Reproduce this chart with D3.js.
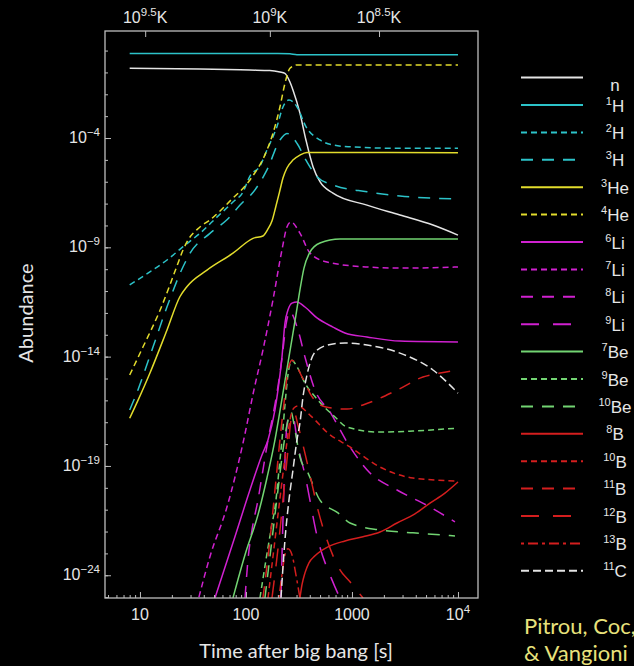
<!DOCTYPE html>
<html>
<head>
<meta charset="utf-8">
<script src="https://cdn.jsdelivr.net/npm/d3@7"></script>
<style>
  html, body { margin: 0; background: #000; }
  svg { display: block; }
</style>
</head>
<body>
<svg id="chart" width="634" height="666"></svg>
<script>
// each point: [time after big bang (s), log10 abundance]
const nData   = [[8,-0.81],[36.8,-0.84],[109,-0.89],[168,-0.91],[209,-0.98],[233,-1.04],[260,-1.44],[277.5,-1.80],[323,-2.86],[368,-4.09],[429,-5.31],[499,-6.00],[662,-6.52],[1387,-7.07],[2836,-7.52],[5808,-7.98],[10000,-8.44]];
const h1Data  = [[8,-0.13],[200,-0.13],[260,-0.15],[303,-0.19],[10000,-0.19]];
const h2Data  = [[8,-10.72],[12.4,-10.12],[18,-9.58],[25.5,-8.97],[36.8,-8.36],[53.2,-7.62],[75.4,-6.93],[93.8,-6.47],[109,-5.74],[135.5,-5.28],[157.8,-4.55],[196,-3.48],[223.4,-2.58],[254.5,-2.26],[302.7,-2.57],[368,-3.48],[499,-4.09],[662,-4.32],[958,-4.40],[2836,-4.47],[10000,-4.47]];
const h3Data  = [[8,-16.44],[9.3,-15.68],[13.3,-13.55],[18,-11.72],[25.5,-9.89],[29.7,-9.27],[45.7,-8.36],[65.8,-7.75],[93.8,-6.93],[109,-6.65],[157.8,-5.46],[209.4,-4.09],[243.6,-3.79],[302.7,-4.24],[368,-5.01],[467.7,-5.77],[662,-6.15],[1387,-6.46],[2836,-6.65],[10000,-6.79]];
const he3Data = [[8,-16.82],[9.6,-15.99],[12.4,-14.76],[18,-12.78],[23.8,-11.26],[27.7,-10.80],[42.9,-10.04],[75.4,-9.27],[116.5,-8.59],[144.6,-8.48],[161.4,-8.16],[175.9,-7.80],[191.9,-7.11],[209.4,-6.38],[223.4,-5.83],[243.6,-5.37],[277.5,-5.01],[323,-4.78],[376,-4.66],[10000,-4.67]];
const he4Data = [[8,-14.84],[10.7,-13.55],[15.5,-11.87],[22.2,-9.89],[25.5,-9.12],[28.4,-8.67],[36.8,-8.07],[45.7,-7.75],[72.1,-6.84],[109,-5.92],[157.8,-4.55],[179.7,-3.79],[209.4,-2.57],[233.3,-1.50],[260,-0.81],[302.7,-0.66],[10000,-0.66]];
const li6Data = [[51,-25.04],[78.7,-22.24],[109,-20.10],[141.6,-18.50],[161.4,-17.81],[187.8,-16.44],[200.4,-15.53],[218.6,-14.02],[233.3,-12.46],[249,-11.87],[271.6,-11.55],[302.7,-11.50],[360.4,-11.73],[467.7,-12.23],[662,-12.65],[859,-12.92],[1387,-13.10],[2836,-13.29],[10000,-13.33]];
const li7Data = [[36,-25.0],[45.7,-23.15],[66.2,-20.88],[93.8,-17.95],[118.8,-15.53],[144.6,-13.70],[179.7,-11.41],[218.6,-9.12],[243.6,-8.07],[265.8,-7.84],[323,-8.35],[401.6,-9.26],[580.7,-9.67],[1387,-9.90],[2836,-9.95],[10000,-9.90]];
const li8Data = [[98,-25.04],[104.5,-23.29],[114,-21.93],[129.8,-20.56],[144.6,-19.19],[161.4,-17.81],[183.7,-16.44],[204.8,-15.07],[223.4,-13.70],[238.4,-12.55],[260,-11.96],[309.4,-12.78],[360.4,-14.02],[448,-15.53],[620,-16.53],[958,-18.13],[1479,-19.32],[2660,-20.10],[5445,-20.88],[9370,-21.56]];
const li9Data = [[213.9,-25.04],[223.4,-21.47],[233.3,-18.73],[243.6,-17.13],[260,-16.67],[283.6,-16.90],[302.7,-17.81],[360.4,-19.41],[477.8,-22.38],[647.9,-24.21],[771,-25.04]];
const be7Data = [[75.4,-25.04],[98,-23.06],[129.8,-21.24],[157.8,-19.55],[187.8,-17.81],[213.9,-16.21],[238.4,-14.84],[265.8,-13.47],[296.2,-12.10],[323,-10.95],[352.6,-9.95],[401.6,-9.22],[499,-8.80],[771,-8.62],[10000,-8.62]];
const be9Data = [[135.5,-25.04],[154.5,-23.29],[172,-21.93],[191.9,-20.56],[204.8,-19.19],[218.6,-17.81],[233.3,-16.21],[249,-14.84],[271.6,-14.16],[296.2,-14.38],[360.4,-15.21],[477.8,-15.99],[691.8,-16.76],[897,-17.22],[1837,-17.45],[3758,-17.40],[10000,-17.27]];
const be10Data = [[151,-25.04],[175.9,-22.38],[200.4,-20.10],[223.4,-18.27],[243.6,-17.13],[265.8,-16.53],[290,-17.36],[323,-18.59],[384.6,-19.32],[499,-20.56],[738,-21.15],[958,-21.61],[1837,-21.93],[3758,-22.06],[9370,-22.20]];
const b8Data  = [[323,-25.04],[337.4,-24.44],[360.4,-23.89],[392.9,-23.43],[448,-23.11],[594,-22.70],[859,-22.43],[1271,-22.24],[1837,-22.02],[2660,-21.61],[3926,-21.19],[5445,-20.70],[7534,-20.24],[10000,-19.73]];
const b10Data = [[161.4,-25.04],[187.8,-22.38],[213.9,-20.10],[238.4,-18.27],[260,-16.90],[283.6,-16.35],[309.4,-16.26],[410.3,-16.72],[594,-17.50],[958,-18.13],[1837,-19.05],[3758,-19.55],[10000,-19.69]];
const b11Data = [[144.6,-25.04],[168.4,-22.38],[191.9,-19.64],[213.9,-17.36],[233.3,-15.76],[249,-14.61],[271.6,-14.16],[337.4,-14.92],[419.5,-15.83],[556,-16.29],[897,-16.40],[1271,-16.21],[2660,-15.53],[4677,-14.93],[6767,-14.75],[10000,-14.61]];
const b12Data = [[175.9,-25.04],[204.8,-22.38],[228.3,-20.10],[249,-18.27],[265.8,-16.90],[283.6,-16.53],[309.4,-17.13],[345,-18.04],[401.6,-19.41],[477.8,-21.01],[580.7,-22.38],[771,-23.75],[958,-24.30],[1271,-25.04]];
const b13Data = [[204.8,-25.04],[218.6,-23.98],[233.3,-23.06],[249,-22.79],[271.6,-23.06],[296.2,-23.98],[323,-25.04]];
const c11Data = [[213.9,-25.04],[233.3,-22.38],[254.5,-20.56],[277.5,-19.19],[302.7,-17.81],[323,-17.04],[345,-15.85],[376.3,-14.84],[410.3,-14.16],[467.7,-13.70],[662,-13.42],[859,-13.38],[1387,-13.47],[2836,-13.84],[5808,-14.61],[10000,-15.67]];

// legend: mass number and element, in legend order
const massNumbers = ['', '1', '2', '3', '3', '4', '6', '7', '8', '9', '7', '9', '10', '8', '10', '11', '12', '13', '11'];
const elements = ['n', 'H', 'H', 'H', 'He', 'He', 'Li', 'Li', 'Li', 'Li', 'Be', 'Be', 'Be', 'B', 'B', 'B', 'B', 'B', 'C'];

// axis ticks
const xTickValues = [10, 100, 1000, 10000];
const yTickExponents = [-4, -9, -14, -19, -24];
const tempTickTimes = [11.2, 168, 1800];
const tempTickExponents = ['9.5', '9', '8.5'];

const seriesData = [nData, h1Data, h2Data, h3Data, he3Data, he4Data, li6Data, li7Data, li8Data, li9Data,
    be7Data, be9Data, be10Data, b8Data, b10Data, b11Data, b12Data, b13Data, c11Data];

const WHITE = '#e4e4e4', CYAN = '#2cc3c9', YELLOW = '#e2dc2c', MAGENTA = '#d021d0', GREEN = '#72d472', RED = '#d41e1e';
const SOLID = null, SHORT = '6,4', MEDIUM = '12,9', LONG = '18,14', DASHDOT = '3,4,10,4', C_DASH = '8,4';
const styles = [
    [WHITE, SOLID], [CYAN, SOLID], [CYAN, SHORT], [CYAN, MEDIUM],
    [YELLOW, SOLID], [YELLOW, SHORT],
    [MAGENTA, SOLID], [MAGENTA, SHORT], [MAGENTA, MEDIUM], [MAGENTA, LONG],
    [GREEN, SOLID], [GREEN, SHORT], [GREEN, MEDIUM],
    [RED, SOLID], [RED, SHORT], [RED, MEDIUM], [RED, LONG], [RED, DASHDOT],
    [WHITE, C_DASH]
];

const margin = { top: 31, left: 105 };
const width = 373, height = 567;

const svg = d3.select('#chart');
const g = svg.append('g').attr('transform', `translate(${margin.left},${margin.top})`);

const x = d3.scaleLog().domain([4.68, 15450]).range([0, width]);
const y = d3.scaleLog().domain([Math.pow(10, -25.04), Math.pow(10, 0.895)]).range([height, 0]);

g.append('clipPath').attr('id', 'plotClip')
    .append('rect').attr('width', width).attr('height', height);

const line = d3.line()
    .x(d => x(d[0]))
    .y(d => y(Math.pow(10, d[1])))
    .curve(d3.curveMonotoneX);

// curves
const plot = g.append('g').attr('clip-path', 'url(#plotClip)');
seriesData.forEach((data, i) => {
    plot.append('path')
        .datum(data)
        .attr('d', line)
        .attr('fill', 'none')
        .attr('stroke', styles[i][0])
        .attr('stroke-width', 1.5)
        .attr('stroke-dasharray', styles[i][1]);
});

// frame and ticks
const tickColor = '#bdbdbd';
function styleAxis(sel) {
    sel.select('.domain').remove();
    sel.selectAll('line').attr('stroke', tickColor);
}

const xMinor = x.ticks().filter(v => !xTickValues.includes(v));
g.append('g').attr('transform', `translate(0,${height})`)
    .call(d3.axisBottom(x).tickValues(xMinor).tickSize(-3).tickFormat(''))
    .call(styleAxis);
g.append('g').attr('transform', `translate(0,${height})`)
    .call(d3.axisBottom(x).tickValues(xTickValues).tickSize(-6).tickFormat(''))
    .call(styleAxis);

const yAll = d3.range(-25, 1).map(e => Math.pow(10, e));
g.append('g')
    .call(d3.axisLeft(y).tickValues(yAll).tickSize(-3).tickFormat(''))
    .call(styleAxis);
g.append('g')
    .call(d3.axisLeft(y).tickValues(yTickExponents.map(e => Math.pow(10, e))).tickSize(-6).tickFormat(''))
    .call(styleAxis);

g.append('g')
    .call(d3.axisTop(x).tickValues(tempTickTimes).tickSize(-6).tickFormat(''))
    .call(styleAxis);

g.append('rect')
    .attr('width', width).attr('height', height)
    .attr('fill', 'none')
    .attr('stroke', tickColor)
    .attr('stroke-width', 1.3);

// tick labels
const labelFont = "'Liberation Sans', Arial, sans-serif";
const labelColor = '#e6e6e6';

const xLabels = g.append('g').selectAll('text')
    .data(xTickValues)
    .enter().append('text')
    .attr('x', d => x(d))
    .attr('y', height + 22)
    .attr('text-anchor', 'middle')
    .style('font-family', labelFont)
    .style('font-size', '16px')
    .style('fill', labelColor);
xLabels.each(function (d) {
    const t = d3.select(this);
    if (d < 10000) {
        t.text(d);
    } else {
        t.append('tspan').text('10');
        t.append('tspan').attr('dy', -7).style('font-size', '11.5px').text(Math.log10(d));
    }
});

const yLabels = g.append('g').selectAll('text')
    .data(yTickExponents)
    .enter().append('text')
    .attr('x', -5)
    .attr('y', d => y(Math.pow(10, d)) + 5)
    .attr('text-anchor', 'end')
    .style('font-family', labelFont)
    .style('font-size', '16px')
    .style('fill', labelColor);
yLabels.append('tspan').text('10');
yLabels.append('tspan').attr('dy', -7).style('font-size', '11.5px').text(d => '\u2212' + Math.abs(d));

const tLabels = g.append('g').selectAll('text')
    .data(tempTickTimes)
    .enter().append('text')
    .attr('x', d => x(d))
    .attr('y', -8)
    .attr('text-anchor', 'middle')
    .style('font-family', labelFont)
    .style('font-size', '16px')
    .style('fill', labelColor);
tLabels.append('tspan').text('10');
tLabels.append('tspan').attr('dy', -7).style('font-size', '11.5px').text((d, i) => tempTickExponents[i]);
tLabels.append('tspan').attr('dy', 7).text('K');

// axis titles
const titleFont = "Lato, 'Open Sans', sans-serif";
svg.append('text')
    .attr('transform', 'translate(33,313) rotate(-90)')
    .attr('text-anchor', 'middle')
    .style('font-family', titleFont)
    .style('font-size', '20px')
    .style('fill', labelColor)
    .text('Abundance');

svg.append('text')
    .attr('x', 296)
    .attr('y', 658)
    .attr('text-anchor', 'middle')
    .style('font-family', titleFont)
    .style('font-size', '20px')
    .style('fill', labelColor)
    .text('Time after big bang [s]');

// legend
const legend = svg.append('g').selectAll('.legend')
    .data(elements)
    .enter().append('g')
    .attr('class', 'legend')
    .attr('transform', (d, i) => `translate(0,${77.6 + i * 27.4})`);

legend.append('line')
    .attr('x1', 521).attr('x2', 583)
    .attr('stroke', (d, i) => styles[i][0])
    .attr('stroke-width', 2)
    .attr('stroke-dasharray', (d, i) => styles[i][1]);

const legendText = legend.append('text')
    .attr('x', 615)
    .attr('y', 6.5)
    .attr('text-anchor', 'middle')
    .style('font-family', labelFont)
    .style('font-size', '17px')
    .style('fill', labelColor);
legendText.append('tspan')
    .attr('dy', -7)
    .style('font-size', '11px')
    .text((d, i) => massNumbers[i]);
legendText.append('tspan')
    .attr('dy', 7)
    .text(d => d);

// credit (runs past the right edge, as in the original slide)
const credit = svg.append('text')
    .attr('x', 524)
    .attr('y', 634)
    .style('font-family', titleFont)
    .style('font-size', '22px')
    .style('fill', '#e8e27c');
credit.append('tspan').attr('x', 524).text('Pitrou, Coc, Uzan');
credit.append('tspan').attr('x', 524).attr('dy', 27).text('& Vangioni');
</script>
</body>
</html>
